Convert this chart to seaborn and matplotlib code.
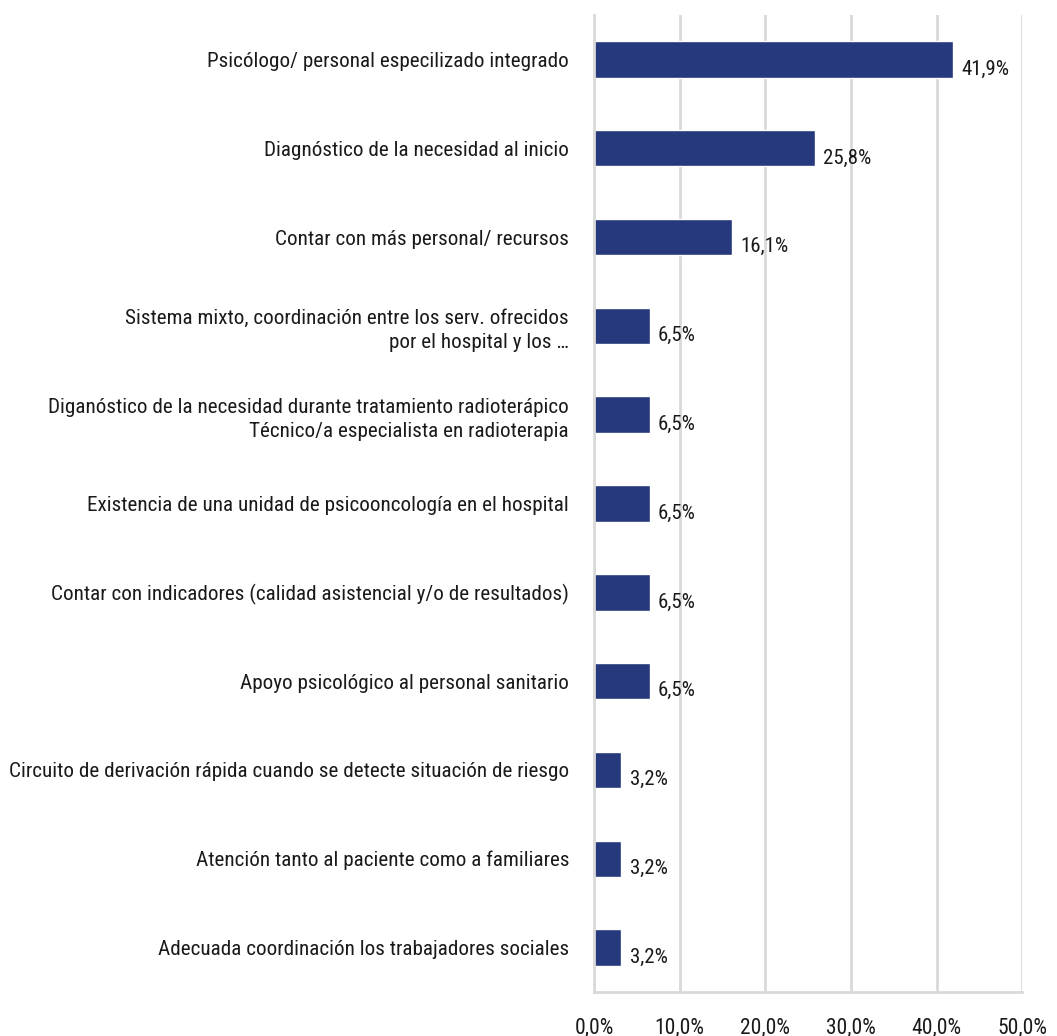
import matplotlib
matplotlib.use("Agg")
import matplotlib.pyplot as plt
import matplotlib.font_manager as fm
import seaborn as sns
import pandas as pd
import numpy as np

categorias = [
    "Psicólogo/ personal especilizado integrado",
    "Diagnóstico de la necesidad al inicio",
    "Contar con más personal/ recursos",
    "Sistema mixto, coordinación entre los serv. ofrecidos\npor el hospital y los …",
    "Diganóstico de la necesidad durante tratamiento radioterápico\nTécnico/a especialista en radioterapia",
    "Existencia de una unidad de psicooncología en el hospital",
    "Contar con indicadores (calidad asistencial y/o de resultados)",
    "Apoyo psicológico al personal sanitario",
    "Circuito de derivación rápida cuando se detecte situación de riesgo",
    "Atención tanto al paciente como a familiares",
    "Adecuada coordinación los trabajadores sociales",
]
porcentajes = [41.9, 25.8, 16.1, 6.5, 6.5, 6.5, 6.5, 6.5, 3.2, 3.2, 3.2]
ticks_x = [0, 10, 20, 30, 40, 50]

df = pd.DataFrame({"cat": categorias, "pct": porcentajes})

sns.set_style("white")
instaladas = {f.name for f in fm.fontManager.ttflist}
familia = [f for f in ["Roboto Condensed", "Open Sans Condensed", "Sofia Sans Condensed",
                       "Sofia Sans Semi Condensed", "Liberation Sans Narrow", "DejaVu Sans"]
           if f in instaladas]
plt.rcParams["font.family"] = familia

fig = plt.figure(figsize=(10.57, 10.36), dpi=100)
ax = fig.add_axes([0.562, 0.0425, 0.405, 0.943])

sns.barplot(data=df, y="cat", x="pct", orient="h", color="#25397C",
            saturation=1, width=0.41, ax=ax)

ax.set_xlim(0, 50)
ax.set_ylim(len(categorias) - 0.5, -0.5)
ax.set_xticks(ticks_x)
ax.set_xticklabels([f"{t:.1f}%".replace(".", ",") for t in ticks_x], fontsize=15.5)
ax.set_xlabel("")
ax.set_ylabel("")

# etiquetas de categoria sin marca; marcas en los limites
ax.set_yticks(range(len(categorias)))
ax.set_yticklabels(categorias, fontsize=15.2, color="#1a1a1a", linespacing=1.35)
ax.tick_params(axis="y", length=0, pad=18)
ax.set_yticks(np.arange(-0.5, len(categorias), 1), minor=True)
ax.tick_params(axis="y", which="minor", length=8, width=2, color="#D9D9D9")
ax.tick_params(axis="x", length=8, width=2, color="#D9D9D9", pad=10, labelcolor="#1a1a1a")

ax.grid(axis="x", color="#D9D9D9", linewidth=2)
ax.set_axisbelow(True)
for s in ["top", "right"]:
    ax.spines[s].set_visible(False)
for s in ["left", "bottom"]:
    ax.spines[s].set_color("#D9D9D9")
    ax.spines[s].set_linewidth(2)

for i, v in enumerate(porcentajes):
    ax.annotate(f"{v:.1f}%".replace(".", ","), xy=(v, i), xytext=(6, -7),
                textcoords="offset points", ha="left", va="center",
                fontsize=15, color="#1a1a1a")

fig.savefig("out.png", dpi=100)
